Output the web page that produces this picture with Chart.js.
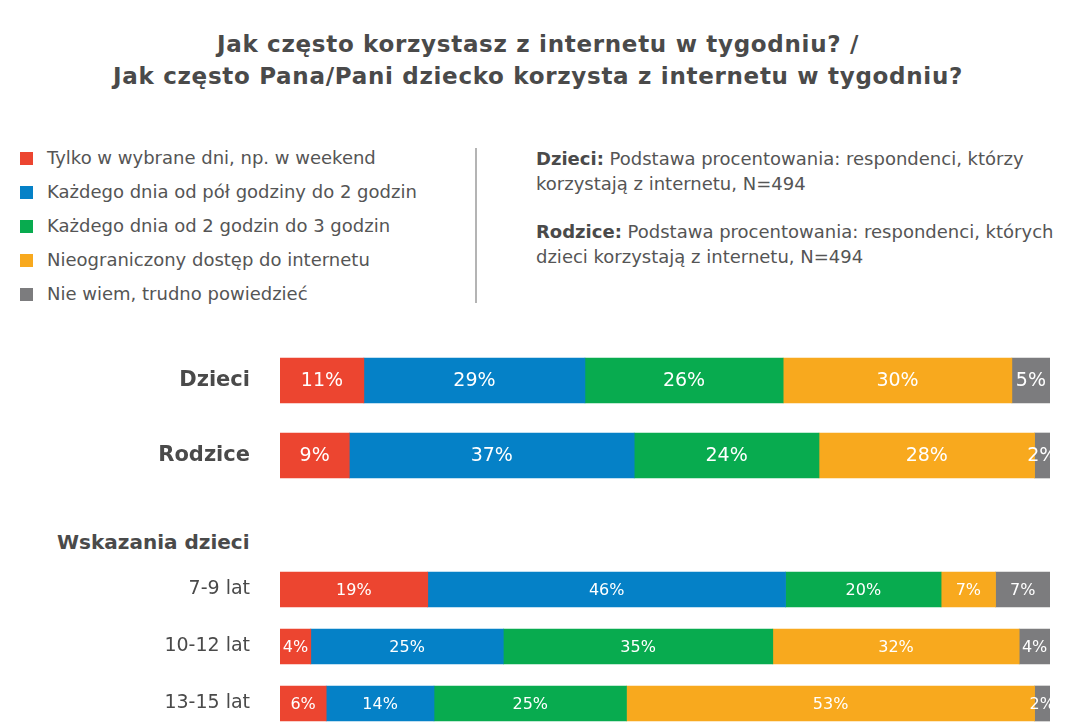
<!DOCTYPE html>
<html lang="pl">
<head>
<meta charset="utf-8">
<script src="https://cdn.jsdelivr.net/npm/chart.js@4.4.1/dist/chart.umd.min.js"></script>
<style>
  html, body { margin: 0; padding: 0; background: #fff; overflow: hidden; }
  body { width: 1066px; height: 722px; position: relative; font-family: "DejaVu Sans", sans-serif; color: #555; }
  .tytul { position: absolute; left: 0; top: 28px; width: 1076px; text-align: center;
           font-weight: 700; font-size: 23px; letter-spacing: 0.7px; line-height: 32px; color: #4a4a4a; }
  .legenda { position: absolute; left: 20px; top: 146px; }
  .legenda div { height: 34px; display: flex; align-items: flex-start; font-size: 18px; line-height: 24px; white-space: nowrap; }
  .legenda span.kw { display: inline-block; width: 13px; height: 13px; margin: 6px 14px 0 0; }
  .kreska { position: absolute; left: 475px; top: 148px; width: 2px; height: 155px; background: #b4b4b4; }
  .uwagi { position: absolute; left: 536px; top: 146px; font-size: 18px; line-height: 25px; white-space: nowrap; }
  .uwagi p { margin: 0 0 23px 0; }
  .uwagi b { color: #4a4a4a; }
  .naglowek { position: absolute; left: 57px; top: 530px; font-weight: 700; font-size: 20px; color: #4a4a4a; }
  .wykres { position: absolute; left: 0; }
</style>
</head>
<body>
<div class="tytul">Jak często korzystasz z internetu w tygodniu? /<br>Jak często Pana/Pani dziecko korzysta z internetu w tygodniu?</div>
<div class="legenda" id="legenda"></div>
<div class="kreska"></div>
<div class="uwagi">
  <p><b>Dzieci:</b> Podstawa procentowania: respondenci, którzy<br>korzystają z internetu, N=494</p>
  <p><b>Rodzice:</b> Podstawa procentowania: respondenci, których<br>dzieci korzystają z internetu, N=494</p>
</div>
<canvas class="wykres" id="wykresGora" width="1066" height="150" style="top:343px;"></canvas>
<div class="naglowek">Wskazania dzieci</div>
<canvas class="wykres" id="wykresDol" width="1066" height="171" style="top:561px;"></canvas>
<script>
const kategorie = ['Dzieci', 'Rodzice', '7-9 lat', '10-12 lat', '13-15 lat'];
const nazwySerii = [
  'Tylko w wybrane dni, np. w weekend',
  'Każdego dnia od pół godziny do 2 godzin',
  'Każdego dnia od 2 godzin do 3 godzin',
  'Nieograniczony dostęp do internetu',
  'Nie wiem, trudno powiedzieć'
];
const tylkoWybraneDni = [11, 9, 19, 4, 6];
const odPolGodzinyDo2 = [29, 37, 46, 25, 14];
const od2Do3Godzin = [26, 24, 20, 35, 25];
const nieograniczony = [30, 28, 7, 32, 53];
const nieWiem = [5, 2, 7, 4, 2];
const kolory = ['#ec4530', '#0581c7', '#08ab4f', '#f8a91e', '#7c7c7e'];

const serie = [tylkoWybraneDni, odPolGodzinyDo2, od2Do3Godzin, nieograniczony, nieWiem];

// legenda
document.getElementById('legenda').innerHTML = nazwySerii.map((n, i) =>
  `<div><span class="kw" style="background:${kolory[i]}"></span>${n}</div>`).join('');

// etykiety wewnatrz slupkow
const etykiety = {
  id: 'etykiety',
  afterDatasetsDraw(chart, args, opts) {
    const ctx = chart.ctx;
    ctx.save();
    ctx.fillStyle = '#fff';
    ctx.font = opts.font;
    ctx.textAlign = 'center';
    ctx.textBaseline = 'middle';
    chart.data.datasets.forEach((ds, di) => {
      chart.getDatasetMeta(di).data.forEach((bar, i) => {
        const x = (bar.x + bar.base) / 2;
        ctx.fillText(ds.surowe[i] + '%', x, bar.y + 1);
      });
    });
    ctx.restore();
  }
};

function zrobWykres(id, od, doI, grubosc, fontOsi, fontEtykiet) {
  const idx = [];
  for (let i = od; i < doI; i++) idx.push(i);
  const sumy = idx.map(i => serie.reduce((s, a) => s + a[i], 0));
  const datasets = serie.map((a, si) => ({
    label: nazwySerii[si],
    data: idx.map((i, k) => a[i] / sumy[k] * 100),
    surowe: idx.map(i => a[i]),
    backgroundColor: kolory[si],
    borderWidth: 0,
    barThickness: grubosc
  }));
  return new Chart(document.getElementById(id).getContext('2d'), {
    type: 'bar',
    data: { labels: idx.map(i => kategorie[i]), datasets },
    plugins: [etykiety],
    options: {
      indexAxis: 'y',
      responsive: false,
      animation: false,
      layout: { padding: { left: 0, right: 16, top: 0, bottom: 0 } },
      plugins: {
        legend: { display: false },
        tooltip: { enabled: false },
        etykiety: { font: fontEtykiet }
      },
      scales: {
        x: { stacked: true, display: false, min: 0, max: 100 },
        y: {
          stacked: true,
          grid: { display: false, drawTicks: false },
          border: { display: false },
          ticks: { color: '#4a4a4a', font: fontOsi, padding: 30 },
          afterFit(scale) {
            scale.width = 280;
            scale.paddingTop = 0;
            scale.paddingBottom = 0;
          }
        }
      }
    }
  });
}

zrobWykres('wykresGora', 0, 2, 45,
  { family: 'DejaVu Sans', size: 21, weight: 'bold' }, '19px "DejaVu Sans"');
zrobWykres('wykresDol', 2, 5, 35,
  { family: 'DejaVu Sans', size: 19, weight: 'normal' }, '16px "DejaVu Sans"');
</script>
</body>
</html>
